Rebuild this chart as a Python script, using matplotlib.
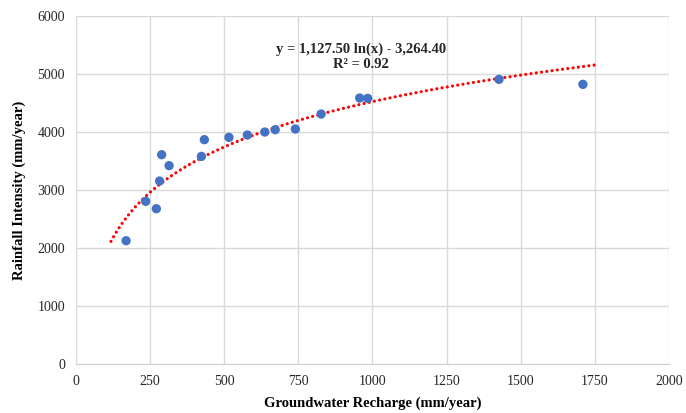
import numpy as np
import matplotlib.pyplot as plt

recharge = [169, 235, 271, 282, 289, 314, 423, 433, 516, 578, 637, 672, 740, 827, 957, 984, 1427, 1710]
rainfall = [2126, 2805, 2678, 3155, 3609, 3420, 3580, 3868, 3908, 3948, 4000, 4040, 4052, 4310, 4586, 4580, 4908, 4822]

coef_a = 1127.50
coef_b = -3264.40
trend_start, trend_end = 118, 1750

plt.rcParams['font.family'] = ['Liberation Serif', 'DejaVu Serif']

fig = plt.figure(figsize=(6.86, 4.13), dpi=100)
ax = fig.add_axes([0.1108, 0.1186, 0.8642, 0.8426])

tx = np.linspace(trend_start, trend_end, 300)
ty = coef_a * np.log(tx) + coef_b
ax.plot(tx, ty, color='#FF0000', linewidth=2.3, linestyle=(0, (0.01, 1.65)),
        dash_capstyle='round', zorder=2)

ax.scatter(recharge, rainfall, s=45, color='#4472C4', edgecolors='none', zorder=3)

ax.set_xlim(0, 2000)
ax.set_ylim(0, 6000)
ax.set_xticks(np.arange(0, 2001, 250))
ax.set_yticks(np.arange(0, 6001, 1000))
ax.grid(True, color='#D9D9D9', linewidth=1)
ax.set_axisbelow(True)
for s in ['top', 'right', 'left']:
    ax.spines[s].set_visible(False)
ax.spines['bottom'].set_color('#D0D0D0')
ax.tick_params(length=0, labelsize=10, colors='#262626', pad=8)

ax.set_xlabel('Groundwater Recharge (mm/year)', fontsize=10.5, fontweight='bold', labelpad=6)
ax.set_ylabel('Rainfall Intensity (mm/year)', fontsize=10.5, fontweight='bold', labelpad=8)

ax.text(960, 5300, 'y = 1,127.50 ln(x) - 3,264.40\nR² = 0.92', ha='center', va='center',
        fontsize=10.5, fontweight='bold', color='#262626', linespacing=1.2)

fig.savefig('out.png', dpi=100)
